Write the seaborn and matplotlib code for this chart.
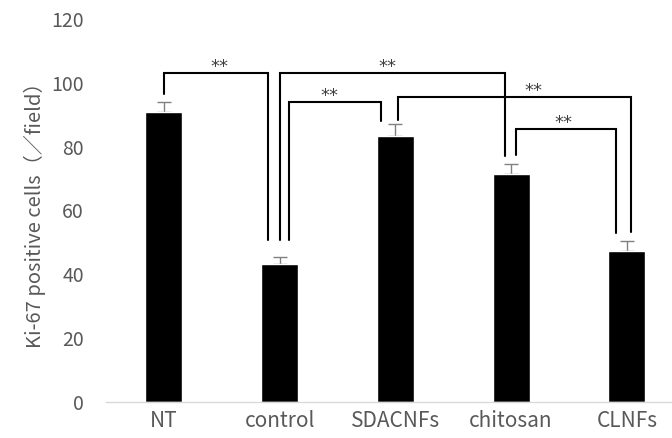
import seaborn as sns
import numpy as np
import pandas as pd
import matplotlib
matplotlib.use('Agg')
import matplotlib.pyplot as plt

# 数据准备
groups = ['NT', 'control', 'SDACNFs', 'chitosan', 'CLNFs']
means = [90.9, 43.3, 83.3, 71.4, 47.3]
errs = [3.1, 2.1, 3.8, 3.2, 3.2]

# significance brackets: (left group, right group, left shift, right shift, top, left end, right end, star shift)
brackets = [
    ('NT', 'control', 0.0, -0.10, 103.2, 96.4, 50.8, 0.03),
    ('control', 'chitosan', 0.0, -0.055, 103.0, 50.8, 77.1, -0.04),
    ('control', 'SDACNFs', 0.08, -0.125, 94.0, 50.8, 88.1, -0.05),
    ('SDACNFs', 'CLNFs', 0.02, 0.04, 95.5, 88.4, 53.3, 0.16),
    ('chitosan', 'CLNFs', 0.04, -0.095, 85.6, 77.4, 53.0, -0.02),
]

sns.set_style('white')
plt.rcParams['font.family'] = ['Noto Sans CJK JP', 'DejaVu Sans']
grey = '#595959'

df = pd.DataFrame({'group': groups, 'mean': means, 'err': errs})

fig = plt.figure(figsize=(6.72, 4.38), dpi=100)
ax = fig.add_axes([106 / 672, 36 / 438, 566 / 672, 383 / 438])
sns.barplot(data=df, x='group', y='mean', color='black', saturation=1,
            width=0.32, errorbar=None, ax=ax, zorder=2)
ax.errorbar(np.arange(len(groups)), df['mean'], yerr=[np.zeros(len(errs)), df['err']],
            fmt='none', ecolor='#808080', elinewidth=1, capsize=5, capthick=1, zorder=1)

# 显著性标记
pos = {g: i for i, g in enumerate(groups)}
for g1, g2, d1, d2, top, e1, e2, sd in brackets:
    x1 = pos[g1] + d1
    x2 = pos[g2] + d2
    ax.plot([x1, x1, x2, x2], [e1, top, top, e2], color='black', lw=1.5,
            solid_joinstyle='miter', clip_on=False, zorder=3)
    ax.text((x1 + x2) / 2 + sd, top + 0.3, '**', ha='center', va='baseline',
            fontsize=13, color='#404040', family='DejaVu Sans')

ax.set_xlim(-0.5, 4.39)
ax.set_ylim(0, 120)
ax.set_yticks(range(0, 121, 20))
ax.set_xlabel('')
ax.set_ylabel('Ki-67 positive cells（／field）', color=grey, fontsize=14.5, labelpad=4)
ax.tick_params(axis='both', length=0, labelcolor=grey)
ax.tick_params(axis='y', pad=16, labelsize=14)
ax.tick_params(axis='x', pad=6, labelsize=15)
for s in ['left', 'right', 'top']:
    ax.spines[s].set_visible(False)
ax.spines['bottom'].set_color('#d9d9d9')
ax.spines['bottom'].set_linewidth(1)

plt.savefig('out.png', dpi=100)
